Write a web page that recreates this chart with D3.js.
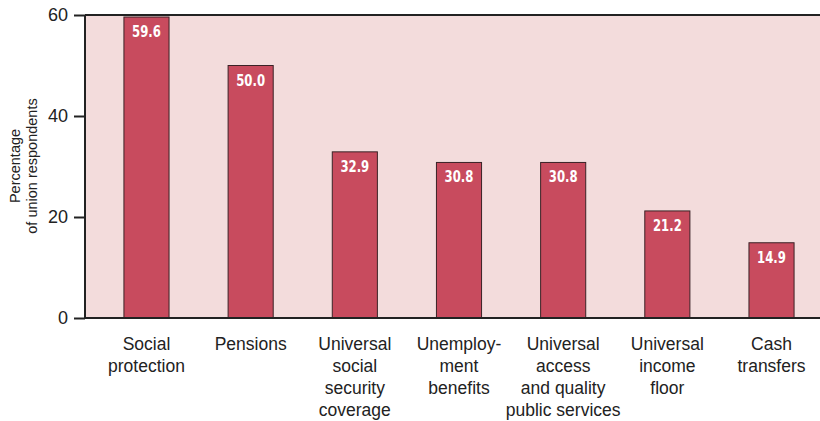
<!DOCTYPE html>
<html>
<head>
<meta charset="utf-8">
<script src="https://cdn.jsdelivr.net/npm/d3@7"></script>
<style>
  html, body { margin: 0; padding: 0; background: #ffffff; }
  svg { display: block; }
</style>
</head>
<body>
<svg id="chart" width="820" height="421"></svg>
<script>
// Share of union respondents citing each social protection priority
const categories = [
  ["Social", "protection"],
  ["Pensions"],
  ["Universal", "social", "security", "coverage"],
  ["Unemploy-", "ment", "benefits"],
  ["Universal", "access", "and quality", "public services"],
  ["Universal", "income", "floor"],
  ["Cash", "transfers"]
];
const values = [59.6, 50.0, 32.9, 30.8, 30.8, 21.2, 14.9];
const yTicks = [0, 20, 40, 60];

const svg = d3.select("#chart");
const W = 820, H = 421;
const plot = { left: 85, right: 822, top: 15, bottom: 318 };

const x = d3.scaleBand()
  .domain(d3.range(categories.length))
  .range([94.4, 823.6])
  .paddingInner(0.567)
  .paddingOuter(0.2835);

const y = d3.scaleLinear().domain([0, 60]).range([plot.bottom, plot.top]);

// plot background
svg.append("rect")
  .attr("x", plot.left).attr("y", plot.top)
  .attr("width", plot.right - plot.left).attr("height", plot.bottom - plot.top)
  .attr("fill", "#f3dcdc");

// bars
svg.append("g").selectAll("rect")
  .data(values)
  .join("rect")
  .attr("x", (d, i) => x(i))
  .attr("y", d => y(d))
  .attr("width", x.bandwidth())
  .attr("height", d => y(0) - y(d))
  .attr("fill", "#c84b5e")
  .attr("stroke", "#3a2226")
  .attr("stroke-width", 1);

// value labels inside bars, horizontally squeezed for a condensed look
svg.append("g").selectAll("text")
  .data(values)
  .join("text")
  .attr("transform", (d, i) => `translate(${x(i) + x.bandwidth() / 2},${y(d) + 20}) scale(0.78,1)`)
  .attr("text-anchor", "middle")
  .attr("fill", "#ffffff")
  .attr("font-family", "'DejaVu Sans', sans-serif")
  .attr("font-weight", "bold")
  .attr("font-size", 15)
  .text(d => d.toFixed(1));

// frame lines: top, left, bottom
const frame = svg.append("g").attr("stroke", "#222").attr("stroke-width", 2);
frame.append("line").attr("x1", plot.left).attr("x2", W).attr("y1", plot.top).attr("y2", plot.top);
frame.append("line").attr("x1", plot.left).attr("x2", W).attr("y1", plot.bottom).attr("y2", plot.bottom);
frame.append("line").attr("x1", plot.left).attr("x2", plot.left).attr("y1", plot.top).attr("y2", plot.bottom);

// y axis
const yAxis = d3.axisLeft(y).tickValues(yTicks).tickSize(11).tickPadding(6);
const gy = svg.append("g").attr("transform", `translate(${plot.left},0)`).call(yAxis);
gy.select(".domain").remove();
gy.selectAll(".tick line").attr("stroke", "#222").attr("stroke-width", 2);
gy.selectAll(".tick text")
  .attr("font-family", "'Liberation Sans', Arial, sans-serif")
  .attr("font-size", 18)
  .attr("fill", "#222");

// y axis title
const yt = svg.append("text")
  .attr("transform", "translate(0,166) rotate(-90)")
  .attr("text-anchor", "middle")
  .attr("font-family", "'Liberation Sans', Arial, sans-serif")
  .attr("font-size", 14.5)
  .attr("fill", "#222");
yt.append("tspan").attr("x", 0).attr("y", 20).text("Percentage");
yt.append("tspan").attr("x", 0).attr("y", 37).text("of union respondents");

// category labels
const cat = svg.append("g").selectAll("text")
  .data(categories)
  .join("text")
  .attr("text-anchor", "middle")
  .attr("font-family", "'Liberation Sans', Arial, sans-serif")
  .attr("font-size", 17.5)
  .attr("fill", "#222");
cat.each(function(lines, i) {
  const t = d3.select(this);
  lines.forEach((ln, k) => {
    t.append("tspan")
      .attr("x", x(i) + x.bandwidth() / 2)
      .attr("y", 350 + k * 22)
      .text(ln);
  });
});
</script>
</body>
</html>
